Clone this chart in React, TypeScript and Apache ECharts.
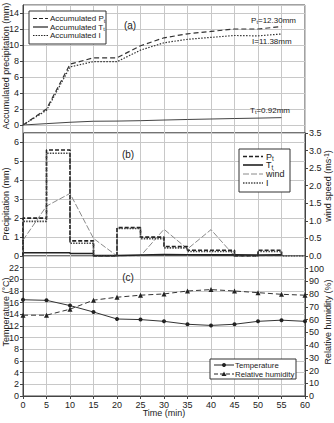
import React, { useEffect, useRef } from "react";
import * as echarts from "echarts";

// Time axis (min) and the 5-min interval starts
const minutes = [0, 5, 10, 15, 20, 25, 30, 35, 40, 45, 50, 55, 60];
const intervalStarts = [0, 5, 10, 15, 20, 25, 30, 35, 40, 45, 50];

// Per-interval amounts (mm)
const ptAmount = [2.0, 5.6, 0.8, 0.0, 1.5, 1.0, 0.5, 0.3, 0.3, 0.0, 0.3];
const ttAmount = [0.17, 0.17, 0.13, 0.02, 0.05, 0.08, 0.07, 0.06, 0.06, 0.05, 0.06];
const iAmount = [1.83, 5.43, 0.67, -0.02, 1.45, 0.92, 0.43, 0.24, 0.24, -0.05, 0.24];

// Wind speed (m/s) at each minute mark
const windSpeed = [0.45, 1.42, 1.78, 0.5, 0.0, 0.0, 0.76, 0.2, 0.75, 0.0, 0.0, 0.0, 0.0];

// Air temperature (°C) and relative humidity (%)
const temperature = [16.5, 16.4, 15.5, 14.4, 13.2, 13.1, 12.8, 12.3, 12.1, 12.3, 12.8, 13.0, 12.8];
const humidity = [63.5, 63.5, 68.2, 75.3, 77.6, 79.2, 80.2, 82.5, 83.6, 82.5, 81.2, 79.9, 79.2];

const FONT = "Liberation Sans, Arial, sans-serif";
const INK = "#222";
const GRIDLINE = "#c8c8c8";

const cumulative = (vals: number[]) => {
  const out: number[][] = [[0, 0]];
  let s = 0;
  vals.forEach((v, i) => {
    s += v;
    out.push([intervalStarts[i] + 5, +s.toFixed(2)]);
  });
  return out;
};

const steps = (vals: number[], tail: boolean) => {
  const pts: number[][] = [[0, 0]];
  vals.forEach((v, i) => pts.push([intervalStarts[i], v]));
  pts.push([intervalStarts[intervalStarts.length - 1] + 5, 0]);
  if (tail) pts.push([60, 0]);
  return pts;
};

const total = (vals: number[]) => vals.reduce((a, b) => a + b, 0).toFixed(2);

const L = 23;
const W = 282;

const sub = { s: { fontSize: 6, padding: [4, 0, 0, 0], fontFamily: FONT, fill: INK } };

const legendLine = (x1: number, x2: number, y: number, dash: number[] | null, width: number, color = INK) => ({
  type: "line",
  z: 101,
  shape: { x1, y1: y, x2, y2: y },
  style: { stroke: color, lineWidth: width, lineDash: dash || undefined },
});

const label = (x: number, y: number, text: string, size: number, align = "left", extra: any = {}) => ({
  type: "text",
  z: 101,
  x,
  y,
  ...extra,
  style: {
    text,
    fontSize: size,
    fontFamily: FONT,
    fill: INK,
    align,
    verticalAlign: "middle",
    rich: {
      s: { fontSize: size * 0.7, padding: [4, 0, 0, 0], fontFamily: FONT, fill: INK },
      u: { fontSize: size * 0.7, padding: [0, 0, 4, 0], fontFamily: FONT, fill: INK },
      n: { fontSize: size, fontFamily: FONT, fill: INK },
    },
  },
});

export default function App() {
  const ref = useRef<HTMLDivElement>(null);

  useEffect(() => {
    if (!ref.current) return;
    const chart = echarts.init(ref.current, undefined, { renderer: "svg" });

    const xBase = { type: "value", min: 0, max: 60, interval: 5 };
    const tickLabel = { fontSize: 9, fontFamily: FONT, color: INK };
    const split = { show: true, lineStyle: { color: GRIDLINE, width: 1 } };
    const axLine = { show: true, lineStyle: { color: "#444", width: 1 } };
    const tick = { show: true, inside: false, length: 3, lineStyle: { color: "#444" } };
    const frame = { show: true, borderColor: "#444", borderWidth: 1, backgroundColor: "transparent" };

    const option: any = {
      animation: false,
      backgroundColor: "#fff",
      grid: [
        { left: L, top: 5, width: W, height: 128, ...frame },
        { left: L, top: 5, width: W, height: 120 },
        { left: L, top: 133, width: W, height: 123, ...frame },
        { left: L, top: 256, width: W, height: 140, ...frame },
      ],
      xAxis: [
        { ...xBase, gridIndex: 0, splitLine: split, axisLabel: { show: false }, axisTick: { show: false }, axisLine: { show: false } },
        { ...xBase, gridIndex: 1, show: false },
        { ...xBase, gridIndex: 2, splitLine: split, axisLabel: { show: false }, axisTick: { show: false }, axisLine: { show: false } },
        {
          ...xBase,
          gridIndex: 3,
          splitLine: split,
          axisLine: axLine,
          axisTick: tick,
          axisLabel: { ...tickLabel, margin: 4 },
        },
      ],
      yAxis: [
        { type: "value", gridIndex: 0, min: 0, max: 1, show: false },
        {
          type: "value",
          gridIndex: 1,
          min: 0,
          max: 15,
          interval: 2,
          axisLine: axLine,
          axisTick: tick,
          splitLine: split,
          axisLabel: { ...tickLabel, margin: 4, showMaxLabel: false },
        },
        {
          type: "value",
          gridIndex: 2,
          min: 0,
          max: 6.5,
          interval: 1,
          axisLine: axLine,
          axisTick: tick,
          splitLine: split,
          axisLabel: { ...tickLabel, margin: 4, showMaxLabel: false },
        },
        {
          type: "value",
          gridIndex: 2,
          position: "right",
          min: 0,
          max: 3.5,
          interval: 0.5,
          axisLine: axLine,
          axisTick: tick,
          splitLine: { show: false },
          axisLabel: { ...tickLabel, margin: 4, formatter: (v: number) => v.toFixed(1) },
        },
        {
          type: "value",
          gridIndex: 3,
          min: 0,
          max: 24,
          interval: 2,
          axisLine: axLine,
          axisTick: tick,
          splitLine: split,
          axisLabel: { ...tickLabel, margin: 4, showMaxLabel: false },
        },
        {
          type: "value",
          gridIndex: 3,
          position: "right",
          min: 0,
          max: 110,
          interval: 10,
          axisLine: axLine,
          axisTick: tick,
          splitLine: { show: false },
          axisLabel: { ...tickLabel, margin: 4, showMaxLabel: false },
        },
      ],
      series: [
        {
          name: "Accumulated Pt",
          type: "line",
          xAxisIndex: 1,
          yAxisIndex: 1,
          data: cumulative(ptAmount),
          symbol: "none",
          lineStyle: { color: "#333", width: 1.2, type: [5, 3] },
        },
        {
          name: "Accumulated Tt",
          type: "line",
          xAxisIndex: 1,
          yAxisIndex: 1,
          data: cumulative(ttAmount),
          symbol: "none",
          lineStyle: { color: "#444", width: 1 },
        },
        {
          name: "Accumulated I",
          type: "line",
          xAxisIndex: 1,
          yAxisIndex: 1,
          data: cumulative(iAmount),
          symbol: "none",
          lineStyle: { color: "#333", width: 1.2, type: [1.5, 1.5] },
        },
        {
          name: "wind",
          type: "line",
          xAxisIndex: 2,
          yAxisIndex: 3,
          data: minutes.map((m, i) => [m, windSpeed[i]]),
          symbol: "none",
          lineStyle: { color: "#8a8a8a", width: 1, type: [6, 2] },
        },
        {
          name: "Tt",
          type: "line",
          step: "end",
          xAxisIndex: 2,
          yAxisIndex: 2,
          data: steps(ttAmount, false),
          symbol: "none",
          lineStyle: { color: INK, width: 1.6 },
        },
        {
          name: "Pt",
          type: "line",
          step: "end",
          xAxisIndex: 2,
          yAxisIndex: 2,
          data: steps(ptAmount, false),
          symbol: "none",
          lineStyle: { color: INK, width: 1.6, type: [4, 2] },
        },
        {
          name: "I",
          type: "line",
          step: "end",
          xAxisIndex: 2,
          yAxisIndex: 2,
          data: steps(iAmount, true),
          symbol: "none",
          lineStyle: { color: "#444", width: 1.6, type: [1.5, 1.2] },
        },
        {
          name: "Temperature",
          type: "line",
          xAxisIndex: 3,
          yAxisIndex: 4,
          data: minutes.map((m, i) => [m, temperature[i]]),
          symbol: "circle",
          symbolSize: 4,
          itemStyle: { color: INK },
          lineStyle: { color: "#333", width: 1 },
        },
        {
          name: "Relative humidity",
          type: "line",
          xAxisIndex: 3,
          yAxisIndex: 5,
          data: minutes.map((m, i) => [m, humidity[i]]),
          symbol: "triangle",
          symbolSize: 5,
          itemStyle: { color: INK },
          lineStyle: { color: "#333", width: 1, type: [5, 3] },
        },
      ],
      graphic: [
        // axis titles
        label(6, 66, "Accumulated precipitation (mm)", 9, "center", { rotation: Math.PI / 2 }),
        label(6, 204, "Precipitation (mm)", 9, "center", { rotation: Math.PI / 2 }),
        label(6, 312, "Temperature (°C)", 9, "center", { rotation: Math.PI / 2 }),
        label(328, 186, "wind speed (ms{u|-1})", 9, "center", { rotation: Math.PI / 2 }),
        label(328, 322, "Relative humidity (%)", 9, "center", { rotation: Math.PI / 2 }),
        label(L + W / 2, 413, "Time (min)", 9, "center"),
        // panel tags
        label(130, 25, "(a)", 10, "center"),
        label(128, 154, "(b)", 10, "center"),
        label(128, 277, "(c)", 10, "center"),
        // totals
        label(296, 20, `P{s|t}=${total(ptAmount)}mm`, 8, "right"),
        label(252, 41, `I=${total(iAmount)}mm`, 8, "left"),
        label(250, 110, `T{s|t}=${total(ttAmount)}mm`, 8, "left"),
        // legend (a)
        { type: "rect", z: 100, shape: { x: 29, y: 11, width: 77, height: 33 }, style: { fill: "#fff", stroke: "#333", lineWidth: 1 } },
        legendLine(33, 48, 18.5, [4, 2], 1.2),
        legendLine(33, 48, 27, null, 1.2),
        legendLine(33, 48, 35.5, [1.5, 1.2], 1.2),
        label(50, 18.5, "Accumulated P{s|t}", 8),
        label(50, 27, "Accumulated T{s|t}", 8),
        label(50, 35.5, "Accumulated I", 8),
        // legend (b)
        { type: "rect", z: 100, shape: { x: 239, y: 149, width: 51, height: 43 }, style: { fill: "#fff", stroke: "#333", lineWidth: 1 } },
        legendLine(243, 263, 156.5, [4, 2], 1.6),
        legendLine(243, 263, 165, null, 1.6),
        legendLine(243, 263, 174, [6, 2], 1, "#8a8a8a"),
        legendLine(243, 263, 183, [1.5, 1.2], 1.6, "#444"),
        label(266, 156.5, "P{s|t}", 9),
        label(266, 165, "T{s|t}", 9),
        label(266, 174, "wind", 9),
        label(266, 183, "I", 9),
        // legend (c)
        { type: "rect", z: 100, shape: { x: 210, y: 359, width: 86, height: 20 }, style: { fill: "#fff", stroke: "#333", lineWidth: 1 } },
        legendLine(214, 234, 365, null, 1),
        legendLine(214, 234, 374, [4, 2], 1),
        { type: "circle", z: 101, shape: { cx: 224, cy: 365, r: 2 }, style: { fill: INK } },
        { type: "polygon", z: 101, shape: { points: [[224, 371.5], [221.5, 376], [226.5, 376]] }, style: { fill: INK } },
        label(235, 365, "Temperature", 7.8),
        label(235, 374, "Relative humidity", 7.8),
      ],
    };

    chart.setOption(option);
    return () => chart.dispose();
  }, []);

  return <div ref={ref} style={{ width: 334, height: 423, position: "absolute", left: 0, top: 0, background: "#fff" }} />;
}
